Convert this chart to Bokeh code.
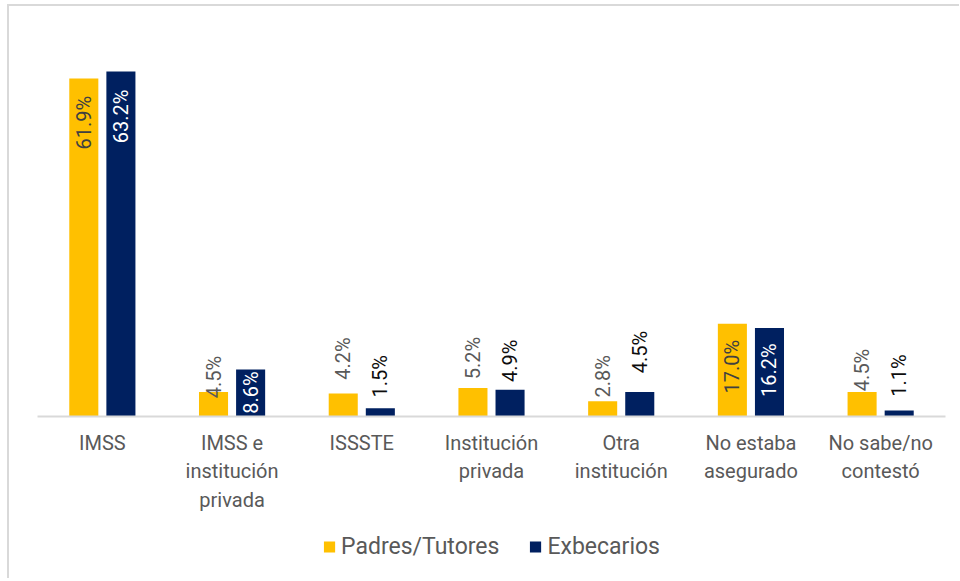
from math import pi
from bokeh.plotting import figure
from bokeh.layouts import column
from bokeh.models import ColumnDataSource, FactorRange, Range1d, LabelSet, Legend, LegendItem
from bokeh.transform import dodge
from bokeh.core.properties import value
from bokeh.embed import file_html
from bokeh.resources import INLINE

categories = ["IMSS", "IMSS e\ninstitución\nprivada", "ISSSTE", "Institución\nprivada",
              "Otra\ninstitución", "No estaba\nasegurado", "No sabe/no\ncontestó"]
padres = [61.9, 4.5, 4.2, 5.2, 2.8, 17.0, 4.5]
exbecarios = [63.2, 8.6, 1.5, 4.9, 4.5, 16.2, 1.1]
series_names = ["Padres/Tutores", "Exbecarios"]

# label styling (screen-pixel nudges of label centre relative to bar top, and colours)
padres_nudge = [-44, 15, 35, 30, 25, -43, 22]
exbec_nudge = [-45, -23, 32, 29, 40, -42, 35]
padres_lcol = ["#404040", "#595959", "#595959", "#595959", "#595959", "#404040", "#595959"]
exbec_lcol = ["#FFFFFF", "#FFFFFF", "#0D0D0D", "#0D0D0D", "#0D0D0D", "#FFFFFF", "#0D0D0D"]

YELLOW = "#FFC000"
NAVY = "#002060"
FONT = "Roboto"

src_p = ColumnDataSource(dict(cat=categories, val=padres,
                              txt=[f"{v:.1f}%" for v in padres],
                              nudge=padres_nudge, col=padres_lcol))
src_e = ColumnDataSource(dict(cat=categories, val=exbecarios,
                              txt=[f"{v:.1f}%" for v in exbecarios],
                              nudge=exbec_nudge, col=exbec_lcol))

p = figure(width=950, height=522, x_range=FactorRange(*categories, range_padding=0),
           y_range=Range1d(0, 72.54), output_backend="svg", toolbar_location=None,
           min_border_left=28, min_border_right=14, min_border_top=14, min_border_bottom=112)

off = 0.143
bw = 0.224
p.vbar(x=dodge("cat", -off, range=p.x_range), top="val", width=bw, source=src_p,
       fill_color=YELLOW, line_color=None)
p.vbar(x=dodge("cat", off, range=p.x_range), top="val", width=bw, source=src_e,
       fill_color=NAVY, line_color=None)

for src, o in ((src_p, -off), (src_e, off)):
    p.add_layout(LabelSet(x=dodge("cat", o, range=p.x_range), y="val", text="txt",
                          source=src, angle=pi / 2, text_align="center",
                          text_baseline="middle", y_offset="nudge",
                          text_color="col", text_font=value(FONT),
                          text_font_size="20px"))

p.yaxis.visible = False
p.xgrid.visible = False
p.ygrid.visible = False
p.outline_line_color = None

ax = p.xaxis[0]
ax.axis_line_color = "#D9D9D9"
ax.axis_line_width = 2
ax.major_tick_line_color = None
ax.minor_tick_line_color = None
ax.major_label_standoff = 8
ax.major_label_text_font = FONT
ax.major_label_text_font_size = "20px"
ax.major_label_text_color = "#595959"

# legend in its own strip below the chart (zero-width bars there; only the key shows)
pl = figure(width=950, height=50, x_range=p.x_range, y_range=Range1d(-2, -1),
            output_backend="svg", toolbar_location=None,
            min_border_left=28, min_border_right=5, min_border_top=0, min_border_bottom=14)
pl.axis.visible = False
pl.grid.visible = False
pl.outline_line_color = None
l1 = pl.vbar(x="cat", top="val", width=0, source=src_p, fill_color=YELLOW, line_color=None)
l2 = pl.vbar(x="cat", top="val", width=0, source=src_e, fill_color=NAVY, line_color=None)
legend = Legend(items=[LegendItem(label=series_names[0], renderers=[l1]),
                       LegendItem(label=series_names[1], renderers=[l2])],
                orientation="horizontal", location="center",
                glyph_width=14, glyph_height=14, label_standoff=5, spacing=29,
                label_text_font=FONT, label_text_font_size="23px",
                label_text_color="#595959", border_line_color=None,
                background_fill_alpha=0, margin=0, padding=0)
pl.add_layout(legend)

layout = column(p, pl, spacing=0)
layout.styles = {"margin-left": "7px", "margin-top": "4px",
                 "border-left": "2px solid #D9D9D9", "border-top": "2px solid #D9D9D9"}

open("out.html", "w").write(file_html(layout, INLINE))
